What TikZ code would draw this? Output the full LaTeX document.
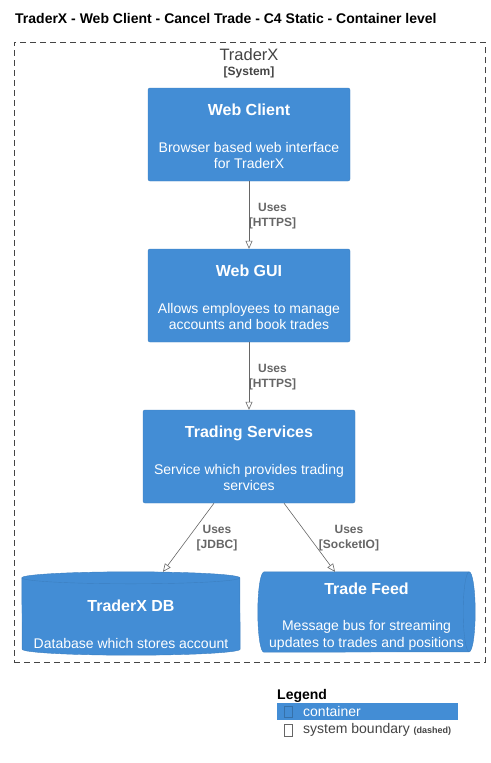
\documentclass[tikz,border=0pt]{standalone}
\usepackage{fontspec}
\setmainfont{Liberation Sans}
\usetikzlibrary{arrows.meta, positioning, calc, backgrounds}

\definecolor{cfill}{HTML}{438DD5}
\definecolor{cborder}{HTML}{3C7FC0}
\definecolor{relgray}{HTML}{666666}
\definecolor{bndgray}{HTML}{444444}

\newcommand{\fs}[1]{\fontsize{#1pt}{\dimexpr#1pt*6/5\relax}\selectfont}

\begin{document}
\begin{tikzpicture}[x=1pt, y=-1pt,
        container/.style={rectangle, fill=cfill, draw=cborder, rounded corners=2pt, text=white, align=center, inner sep=0pt, font=\fs{14}},
        shapebox/.style={rectangle, draw=none, inner sep=0pt, text=white, align=center, font=\fs{14}},
        rel/.style={-{Triangle[open, length=8pt, width=7pt]}, draw=relgray, line width=0.6pt},
        rellabel/.style={font=\fs{12}\bfseries, text=relgray, align=center, inner sep=0pt},
        boundary/.style={draw=bndgray, dash pattern=on 6pt off 4pt, line width=0.6pt}
    ]
        \useasboundingbox (0,0) rectangle (490,763);

        % ----------------------------------------------------
        % TITLE AND SYSTEM BOUNDARY
        % ----------------------------------------------------
        \node[anchor=base west, font=\fs{14}\bfseries, inner sep=0pt] (title) at (15,23.5) {TraderX - Web Client - Cancel Trade - C4 Static - Container level};

        \node[boundary, minimum width=471, minimum height=620, inner sep=0pt] (sys) at (249.5,352) {};
        \node[font=\fs{16.5}, text=bndgray, inner sep=0pt] (sysname) at (249,55) {TraderX};
        \node[font=\fs{12}\bfseries, text=bndgray, inner sep=0pt] (systype) at (249,72) {[System]};

        % ----------------------------------------------------
        % CONTAINERS
        % ----------------------------------------------------
        \node[container, minimum width=202, minimum height=93] (client) at (249,134.5) {
            {\fs{16}\bfseries\rule{0pt}{15.5pt}Web Client}\\[20pt]
            Browser based web interface\\
            for TraderX
        };

        \node[container, minimum width=202, minimum height=93] (gui) at (249,295.5) {
            {\fs{16}\bfseries\rule{0pt}{15.5pt}Web GUI}\\[20pt]
            Allows employees to manage\\
            accounts and book trades
        };

        \node[container, minimum width=212, minimum height=93] (trading) at (249,456.5) {
            {\fs{16}\bfseries\rule{0pt}{15.5pt}Trading Services}\\[20pt]
            Service which provides trading\\
            services
        };

        \node[shapebox, minimum width=218, minimum height=83] (db) at (131,613.5) {};
        \node[shapebox, font=\fs{16}\bfseries] (dbname) at (131,606) {TraderX DB};
        \node[shapebox] (dbdesc) at (131,643) {Database which stores account};

        \node[shapebox, minimum width=217, minimum height=80] (feed) at (366.5,612) {
            {\fs{16}\bfseries\rule{0pt}{20.5pt}Trade Feed}\\[20pt]
            Message bus for streaming\\
            updates to trades and positions
        };

        \begin{scope}[on background layer]
            % database cylinder
            \fill[cfill, draw=cborder, line width=0.4pt] ($(db.north west)+(0,6)$) arc[start angle=180, end angle=360, x radius=109, y radius=6] -- ($(db.south east)+(0,-6)$) arc[start angle=0, end angle=180, x radius=109, y radius=6] -- cycle;
            \draw[cborder, line width=0.4pt] ($(db.north west)+(0,6)$) arc[start angle=180, end angle=0, x radius=109, y radius=6];
            % queue cylinder
            \fill[cfill, draw=cborder, line width=0.4pt] ($(feed.north west)+(6,0)$) -- ($(feed.north east)+(-6,0)$) arc[start angle=270, end angle=450, x radius=6, y radius=40] -- ($(feed.south west)+(6,0)$) arc[start angle=90, end angle=270, x radius=6, y radius=40] -- cycle;
            \draw[cborder, line width=0.4pt] ($(feed.north east)+(-6,0)$) arc[start angle=270, end angle=90, x radius=6, y radius=40];
        \end{scope}

        % ----------------------------------------------------
        % RELATIONSHIPS
        % ----------------------------------------------------
        \draw[rel] (client.south) -- (gui.north);
        \node[rellabel] (lbl1) at (272.5,216) {Uses\\{[HTTPS]}};

        \draw[rel] (gui.south) -- (trading.north);
        \node[rellabel] (lbl2) at (272.5,377) {Uses\\{[HTTPS]}};

        \draw[rel] ($(trading.south)+(-35,0)$) -- ($(db.north)+(32,0)$);
        \node[rellabel] (lbl3) at (217,538) {Uses\\{[JDBC]}};

        \draw[rel] ($(trading.south)+(35,0)$) -- ($(feed.north)+(-31.5,0)$);
        \node[rellabel] (lbl4) at (349,538) {Uses\\{[SocketIO]}};

        % ----------------------------------------------------
        % LEGEND
        % ----------------------------------------------------
        \node[anchor=base west, font=\fs{14}\bfseries, inner sep=0pt] (legend) at (277,699) {Legend};
        \node[rectangle, fill=cfill, minimum width=181, minimum height=17, inner sep=0pt] (legcont) at (367.5,711.5) {};
        \draw[cfill!80!black, line width=0.3pt] (284.5,706) rectangle (292.5,717);
        \node[anchor=west, font=\fs{14}, text=white, inner sep=0pt] (legconttext) at (303,711.5) {container};
        \draw[relgray, line width=0.6pt] (284.5,724) rectangle (292.5,736);
        \node[anchor=west, font=\fs{14}, text=bndgray, inner sep=0pt] (legbnd) at (303,729.5) {system boundary {\fs{9}\bfseries (dashed)}};
\end{tikzpicture}
\end{document}
